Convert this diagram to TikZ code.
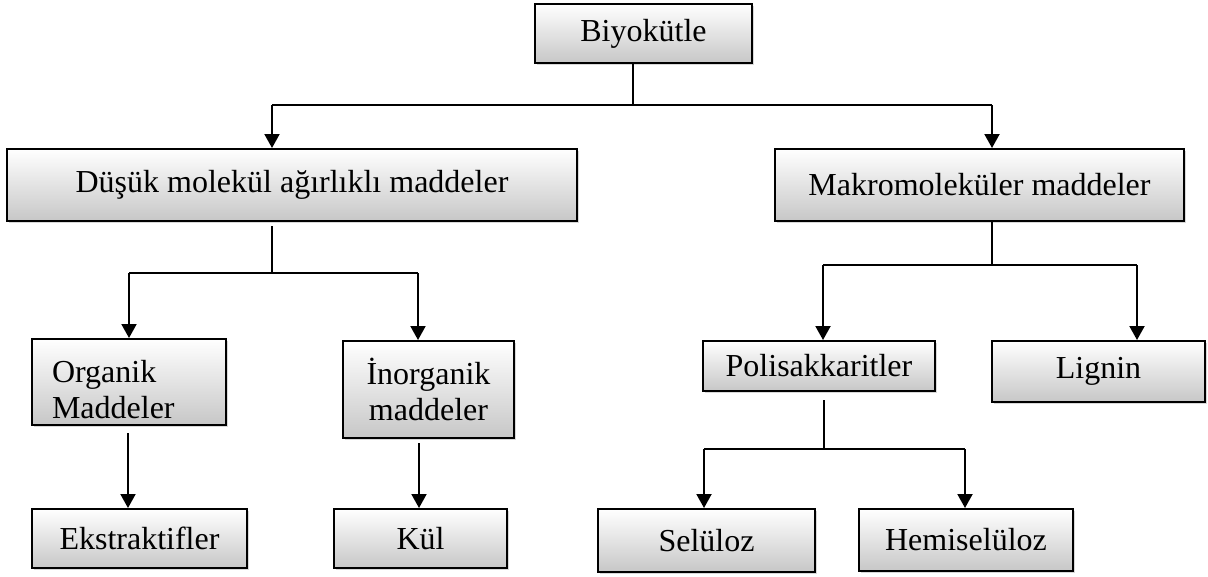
\documentclass[tikz,border=0pt]{standalone}
\usepackage{fontspec}
\setmainfont{Liberation Serif}
\usetikzlibrary{arrows.meta,shadows,calc}
\begin{document}
\begin{tikzpicture}[x=1pt,y=-1pt,
  box/.style={draw=black,line width=2pt,top color=white,bottom color=black!22,
    drop shadow={shadow xshift=1.5pt,shadow yshift=-1.5pt,fill=black!30,opacity=0.5},
    inner sep=0pt,font=\fontsize{32}{36}\selectfont,align=center},
  ln/.style={line width=2pt},
  arr/.style={line width=2pt,-{Triangle[width=15pt,length=14pt]}}]
\useasboundingbox (0,0) rectangle (1208,576);
% boxes
\node[box,minimum width=217pt,minimum height=59pt] (bio) at (643.5,33.5) {Biyokütle};
\node[box,minimum width=570pt,minimum height=72pt] (dus) at (292,185) {Düşük molekül ağırlıklı maddeler};
\node[box,minimum width=409pt,minimum height=72pt] (mak) at (979.5,185) {Makromoleküler maddeler};
\node[box,minimum width=194pt,minimum height=86pt,text width=154pt,inner xsep=20pt,align=left] (org) at (129,382) {\rule{0pt}{38pt}Organik\\Maddeler};
\node[box,minimum width=171pt,minimum height=97pt] (ino) at (428.5,389.5) {İnorganik\\maddeler};
\node[box,minimum width=232pt,minimum height=50pt] (pol) at (819,366) {Polisakkaritler};
\node[box,minimum width=213pt,minimum height=61pt] (lig) at (1098.5,371.5) {Lignin};
\node[box,minimum width=215pt,minimum height=59pt] (eks) at (139.5,538.5) {Ekstraktifler};
\node[box,minimum width=173pt,minimum height=59pt] (kul) at (420.5,538.5) {Kül};
\node[box,minimum width=217pt,minimum height=63pt] (sel) at (706.5,540.5) {Selüloz};
\node[box,minimum width=214pt,minimum height=62pt] (hem) at (966,540) {Hemiselüloz};
% junction coordinates
\coordinate (j1) at (633,105);
\coordinate (j1l) at (272,105);
\coordinate (j1r) at (992,105);
\coordinate (j2) at (272,273);
\coordinate (j2l) at (129,273);
\coordinate (j2r) at (418,273);
\coordinate (j3) at (992,265);
\coordinate (j3l) at (823,265);
\coordinate (j3r) at (1137,265);
\coordinate (j4) at (824,449);
\coordinate (j4l) at (704,449);
\coordinate (j4r) at (965,449);
\coordinate (x5) at (128,0);
\coordinate (x6) at (419,0);
% connectors
\draw[ln] (bio.south -| j1) -- (j1);
\draw[ln] (j1l) -- (j1r);
\draw[arr] (j1l) -- (j1l |- dus.north);
\draw[arr] (j1r) -- (j1r |- mak.north);
\draw[ln] ([yshift=-4pt]dus.south -| j2) -- (j2);
\draw[ln] (j2l) -- (j2r);
\draw[arr] (j2l) -- (j2l |- org.north);
\draw[arr] (j2r) -- (j2r |- ino.north);
\draw[ln] (mak.south -| j3) -- (j3);
\draw[ln] (j3l) -- (j3r);
\draw[arr] (j3l) -- (j3l |- pol.north);
\draw[arr] (j3r) -- (j3r |- lig.north);
\draw[ln] ([yshift=-8pt]pol.south -| j4) -- (j4);
\draw[ln] (j4l) -- (j4r);
\draw[arr] (j4l) -- (j4l |- sel.north);
\draw[arr] (j4r) -- (j4r |- hem.north);
\draw[arr] ([yshift=-7pt]org.south -| x5) -- (eks.north -| x5);
\draw[arr] ([yshift=-4pt]ino.south -| x6) -- (kul.north -| x6);
\end{tikzpicture}
\end{document}
